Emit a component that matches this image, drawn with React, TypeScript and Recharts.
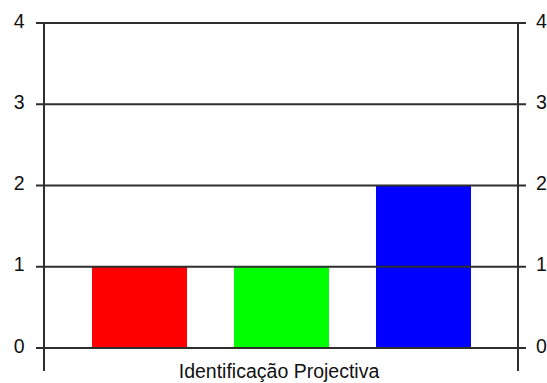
import React from "react";
import { BarChart, Bar, XAxis, YAxis, ReferenceLine } from "recharts";

// Category and series values
const categories = ["Identificação Projectiva"];
const seriesRed = [1];
const seriesGreen = [1];
const seriesBlue = [2];
const yTicks = [0, 1, 2, 3, 4];

const data = categories.map((name, i) => ({
  name,
  red: seriesRed[i],
  green: seriesGreen[i],
  blue: seriesBlue[i],
}));

// The value axes run a little below zero so their lines continue under the
// baseline, marking the edges of the category band.
const Y_DOMAIN: [number, number] = [-0.283, 4];

const FONT = "'Liberation Sans', Arial, sans-serif";
const FONT_SIZE = 19.5;
const LINE = "#2e2e2e";

const ValueTick = (props: any) => (
  <text
    x={props.x}
    y={props.y}
    dy={4.5}
    textAnchor={props.textAnchor}
    fontFamily={FONT}
    fontSize={FONT_SIZE}
    fill="#111"
  >
    {props.payload.value}
  </text>
);

const CategoryTick = (props: any) => (
  <text
    x={props.x}
    y={props.y}
    dx={-2}
    dy={7}
    textAnchor="middle"
    fontFamily={FONT}
    fontSize={FONT_SIZE}
    fill="#111"
  >
    {props.payload.value}
  </text>
);

export default function App() {
  return (
    <div style={{ position: "absolute", left: 0, top: 0, background: "#fff" }}>
      <BarChart
        width={547}
        height={383}
        data={data}
        margin={{ top: 23, right: 0, bottom: 0, left: 0 }}
        barSize={95}
        barGap={47}
      >
        <XAxis
          dataKey="name"
          height={12}
          axisLine={false}
          tickLine={false}
          tickSize={0}
          tickMargin={0}
          tick={CategoryTick}
          interval={0}
        />
        <YAxis
          width={44}
          domain={Y_DOMAIN}
          allowDataOverflow
          ticks={yTicks}
          interval={0}
          stroke={LINE}
          axisLine={{ stroke: LINE, strokeWidth: 2 }}
          tickLine={{ stroke: LINE, strokeWidth: 2 }}
          tickSize={8}
          tickMargin={11.5}
          tick={ValueTick}
        />
        <YAxis
          yAxisId="right"
          orientation="right"
          width={29}
          domain={Y_DOMAIN}
          allowDataOverflow
          ticks={yTicks}
          interval={0}
          stroke={LINE}
          axisLine={{ stroke: LINE, strokeWidth: 2 }}
          tickLine={{ stroke: LINE, strokeWidth: 2 }}
          tickSize={8}
          tickMargin={10}
          tick={ValueTick}
        />
        {yTicks.map((v) => (
          <ReferenceLine key={v} y={v} stroke={LINE} strokeWidth={2} />
        ))}
        <Bar dataKey="red" fill="#ff0000" isAnimationActive={false} />
        <Bar dataKey="green" fill="#00ff00" isAnimationActive={false} />
        <Bar dataKey="blue" fill="#0000ff" isAnimationActive={false} />
      </BarChart>
    </div>
  );
}
